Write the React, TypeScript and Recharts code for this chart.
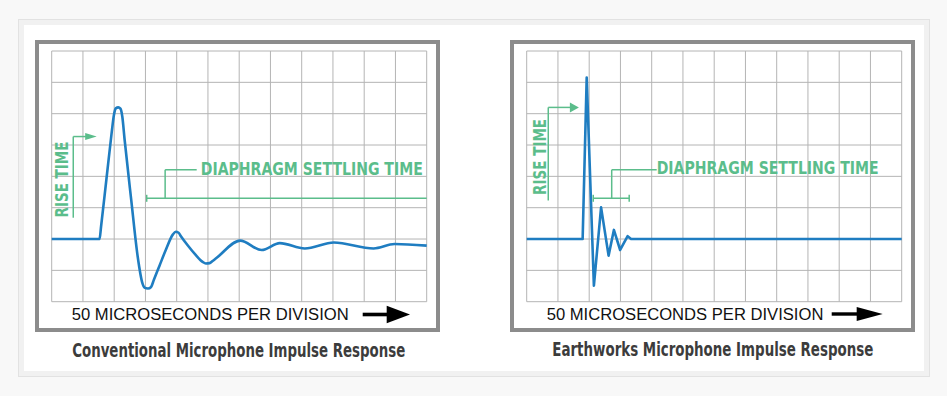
import React from "react";
import { LineChart, Line, XAxis, YAxis, CartesianGrid, ReferenceLine, ReferenceDot } from "recharts";

// time in divisions (50 µs each), level in grid divisions from the bottom
const convTime = [0, 1.53, 1.58, 1.75, 1.92, 1.99, 2.05, 2.13, 2.2, 2.26, 2.33, 2.55, 2.75, 2.9, 2.97, 3.08, 3.18, 3.27, 3.45, 3.65, 3.88, 3.97, 4.06, 4.14, 4.35, 4.6, 4.83, 4.93, 5.05, 5.15, 5.28, 6.03, 6.72, 7.3, 8.1, 9.03, 10.3, 10.97, 12];
const convLevel = [2, 2, 2.4, 3.9, 5.4, 5.95, 6.17, 6.2, 6.16, 5.9, 5.2, 3.2, 1.45, 0.6, 0.45, 0.42, 0.47, 0.7, 1.15, 1.65, 2.15, 2.23, 2.2, 2.08, 1.8, 1.5, 1.27, 1.22, 1.23, 1.3, 1.4, 1.95, 1.65, 1.87, 1.7, 1.89, 1.7, 1.84, 1.79];

const ewTime = [0, 1.79, 1.92, 2.15, 2.38, 2.62, 2.79, 2.99, 3.23, 3.34, 12];
const ewLevel = [2, 2, 7.15, 0.51, 3.01, 1.47, 2.29, 1.65, 2.09, 2, 2];

const divTicksX = [0, 1, 2, 3, 4, 5, 6, 7, 8, 9, 10, 11, 12];
const divTicksY = [0, 1, 2, 3, 4, 5, 6, 7, 8];

const captions = ["Conventional Microphone Impulse Response", "Earthworks Microphone Impulse Response"];
const scaleLabel = "50 MICROSECONDS PER DIVISION";

const BLUE = "#1f7dc1";
const GREEN = "#5bbd8b";
const NARROW = "'Liberation Sans Narrow', 'DejaVu Sans Condensed', 'Roboto Condensed', sans-serif";

type Notes = {
  riseText: [number, number];
  riseLine: [number, number, number];
  riseTip: number;
  arrowLen: number;
  arrowH: number;
  settleText: [number, number];
  settleBar: [number, number, number];
  rightTick: boolean;
  connector: [number, number, number];
};

const convNotes: Notes = {
  riseText: [0.32, 3.9],
  riseLine: [0.69, 2.68, 5.27],
  riseTip: 1.44,
  arrowLen: 11.5,
  arrowH: 7,
  settleText: [4.77, 4.24],
  settleBar: [3.04, 12, 3.3],
  rightTick: false,
  connector: [3.63, 4.21, 4.64],
};

const ewNotes: Notes = {
  riseText: [0.43, 4.62],
  riseLine: [0.69, 3.23, 6.2],
  riseTip: 1.67,
  arrowLen: 9,
  arrowH: 10,
  settleText: [4.16, 4.28],
  settleBar: [2.13, 3.28, 3.3],
  rightTick: true,
  connector: [2.72, 4.21, 4.16],
};

// grid lines from the axis scales (fall back to the plot offset if a scale is not passed)
const vertGrid = ({ xAxis, offset }: any) =>
  divTicksX.map((t) => (xAxis && typeof xAxis.scale === "function" ? xAxis.scale(t) : offset.left + (t / 12) * offset.width));
const horizGrid = ({ yAxis, offset }: any) =>
  divTicksY.map((v) => (yAxis && typeof yAxis.scale === "function" ? yAxis.scale(v) : offset.top + offset.height - (v / 8) * offset.height));

function Scope({ time, level, notes, type }: { time: number[]; level: number[]; notes: Notes; type: "monotone" | "linear" }) {
  const data = time.map((t, i) => ({ t, v: level[i] }));
  const [bx0, bx1, by] = notes.settleBar;
  const [cx, cy, cx1] = notes.connector;
  return (
    <LineChart width={397} height={284} data={data} margin={{ top: 7, right: 9.3, bottom: 26.3, left: 12.7 }}>
      <CartesianGrid stroke="#b4b4b4" strokeWidth={1} verticalCoordinatesGenerator={vertGrid} horizontalCoordinatesGenerator={horizGrid} />
      <XAxis dataKey="t" type="number" domain={[0, 12]} ticks={divTicksX} interval={0} tick={false} tickLine={false} axisLine={false} height={0} />
      <YAxis type="number" domain={[0, 8]} ticks={divTicksY} interval={0} tick={false} tickLine={false} axisLine={false} width={0} />
      {/* rise time marker */}
      <ReferenceLine segment={[{ x: notes.riseLine[0], y: notes.riseLine[1] }, { x: notes.riseLine[0], y: notes.riseLine[2] }]} stroke={GREEN} strokeWidth={1.5} />
      <ReferenceLine segment={[{ x: notes.riseLine[0], y: notes.riseLine[2] }, { x: notes.riseTip - 0.2, y: notes.riseLine[2] }]} stroke={GREEN} strokeWidth={1.5} />
      <ReferenceDot
        x={notes.riseTip}
        y={notes.riseLine[2]}
        r={0}
        shape={(p: any) => (
          <path d={`M${p.cx},${p.cy} L${p.cx - notes.arrowLen},${p.cy - notes.arrowH / 2} L${p.cx - notes.arrowLen},${p.cy + notes.arrowH / 2} Z`} fill={GREEN} />
        )}
      />
      <ReferenceDot
        x={notes.riseText[0]}
        y={notes.riseText[1]}
        r={0}
        shape={(p: any) => (
          <text
            x={0}
            y={0}
            transform={`translate(${p.cx + 6},${p.cy}) rotate(-90)`}
            textAnchor="middle"
            fill={GREEN}
            fontFamily={NARROW}
            fontWeight="bold"
            fontSize={17}
            textLength={76}
            lengthAdjust="spacingAndGlyphs"
          >
            RISE TIME
          </text>
        )}
      />
      {/* settling time bracket */}
      <ReferenceLine segment={[{ x: bx0, y: by }, { x: bx1, y: by }]} stroke={GREEN} strokeWidth={1.5} />
      <ReferenceDot x={bx0} y={by} r={0} shape={(p: any) => <line x1={p.cx} x2={p.cx} y1={p.cy - 3.5} y2={p.cy + 3.5} stroke={GREEN} strokeWidth={1.5} />} />
      {notes.rightTick && (
        <ReferenceDot x={bx1} y={by} r={0} shape={(p: any) => <line x1={p.cx} x2={p.cx} y1={p.cy - 3.5} y2={p.cy + 3.5} stroke={GREEN} strokeWidth={1.5} />} />
      )}
      <ReferenceLine segment={[{ x: cx, y: by }, { x: cx, y: cy }]} stroke={GREEN} strokeWidth={1.5} />
      <ReferenceLine segment={[{ x: cx, y: cy }, { x: cx1, y: cy }]} stroke={GREEN} strokeWidth={1.5} />
      <ReferenceDot
        x={notes.settleText[0]}
        y={notes.settleText[1]}
        r={0}
        shape={(p: any) => (
          <text
            x={p.cx}
            y={p.cy + 6}
            fill={GREEN}
            fontFamily={NARROW}
            fontWeight="bold"
            fontSize={17}
            textLength={222}
            lengthAdjust="spacingAndGlyphs"
          >
            DIAPHRAGM SETTLING TIME
          </text>
        )}
      />
      <Line dataKey="v" type={type} stroke={BLUE} strokeWidth={2.6} dot={false} activeDot={false} isAnimationActive={false} strokeLinejoin="round" />
    </LineChart>
  );
}

function Panel({ left, children }: { left: number; children: React.ReactNode }) {
  return (
    <div
      style={{
        position: "absolute",
        left,
        top: 40,
        width: 405,
        height: 292,
        boxSizing: "border-box",
        border: "4px solid #8c8c8c",
        background: "#fff",
      }}
    >
      {children}
    </div>
  );
}

export default function App() {
  return (
    <div style={{ position: "absolute", left: 0, top: 0, width: 947, height: 396, background: "#f8f8f8", overflow: "hidden" }}>
      <div
        style={{
          position: "absolute",
          left: 18,
          top: 19,
          width: 912,
          height: 358,
          boxSizing: "border-box",
          border: "1px solid #e2e2e2",
          background: "#f1f1f1",
        }}
      >
        <div style={{ position: "absolute", left: 5, top: 5, right: 5, bottom: 5, background: "#fff" }} />
      </div>
      <Panel left={35}>
        <Scope time={convTime} level={convLevel} notes={convNotes} type="monotone" />
      </Panel>
      <Panel left={510}>
        <Scope time={ewTime} level={ewLevel} notes={ewNotes} type="linear" />
      </Panel>
      <svg width={947} height={396} style={{ position: "absolute", left: 0, top: 0, pointerEvents: "none" }}>
        <text x={71.7} y={320} fontFamily="'Liberation Sans', Arial, sans-serif" fontSize={16.7} fill="#111" textLength={277} lengthAdjust="spacingAndGlyphs">
          {scaleLabel}
        </text>
        <rect x={362.7} y={312.7} width={25} height={3.6} fill="#000" />
        <path d="M410,314.5 L386.7,305.7 L386.7,323.3 Z" fill="#000" />
        <text x={546.7} y={320} fontFamily="'Liberation Sans', Arial, sans-serif" fontSize={16.7} fill="#111" textLength={276.7} lengthAdjust="spacingAndGlyphs">
          {scaleLabel}
        </text>
        <rect x={831.7} y={312.3} width={26} height={3.4} fill="#000" />
        <path d="M882.7,314 L856.7,307 L856.7,321 Z" fill="#000" />
        <text x={238.7} y={357} textAnchor="middle" fontFamily={NARROW} fontWeight={600} fontSize={19} fill="#3c3c3c" textLength={333} lengthAdjust="spacingAndGlyphs">
          {captions[0]}
        </text>
        <text x={712.8} y={356} textAnchor="middle" fontFamily={NARROW} fontWeight={600} fontSize={19} fill="#3c3c3c" textLength={321} lengthAdjust="spacingAndGlyphs">
          {captions[1]}
        </text>
      </svg>
    </div>
  );
}
